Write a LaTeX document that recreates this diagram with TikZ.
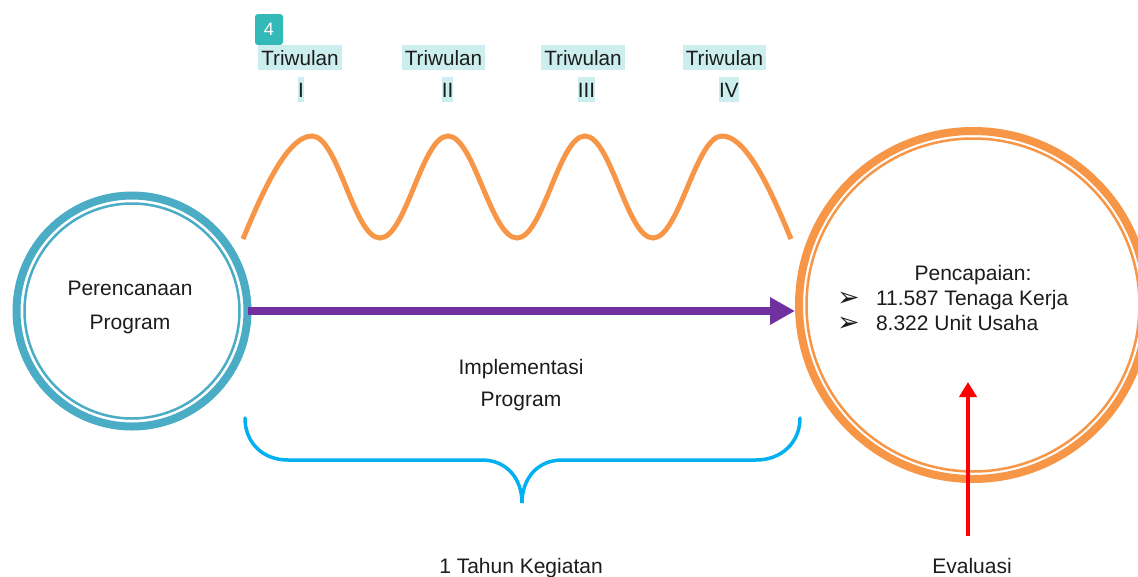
\documentclass[tikz,border=0pt]{standalone}
\usepackage{fontspec}
\setmainfont{Liberation Sans}
\newfontfamily\symfont{DejaVu Sans}
\usetikzlibrary{arrows.meta}
\definecolor{orng}{HTML}{F79646}
\definecolor{aqua}{HTML}{4BACC6}
\definecolor{purp}{HTML}{7030A0}
\definecolor{brc}{HTML}{00B0F0}
\definecolor{redc}{HTML}{FF0000}
\definecolor{hlc}{RGB}{204,238,238}
\definecolor{badgec}{RGB}{52,185,185}
\definecolor{txtc}{RGB}{28,28,28}
\newcommand{\mybullet}{\makebox[39pt][l]{\raisebox{-1pt}{\symfont\fontsize{27}{27}\selectfont ➢}}}
\begin{document}
\begin{tikzpicture}[x=1pt,y=-1pt,
  txt/.style={font=\fontsize{21}{25}\selectfont, text=txtc, inner sep=0pt, outer sep=0pt},
  hl/.style={fill=hlc, font=\fontsize{20.7}{24}\selectfont, text=txtc, text height=20.5pt, text depth=4.5pt, inner ysep=0pt, outer sep=0pt},
  ring/.style={circle, draw, line width=8pt, inner sep=0pt, outer sep=0pt},
  thinring/.style={line width=2.5pt},
  conn/.style={line width=8.5pt, draw=purp, -{Triangle[length=25pt,width=26pt]}}
]
\useasboundingbox (0,0) rectangle (1138,576);
\fill[white] (0,0) rectangle (1138,576);

% badge
\node[fill=badgec, rounded corners=3pt, minimum width=28pt, minimum height=31pt, inner sep=0pt,
      text=white, font=\fontsize{18}{20}\selectfont] (badge) at (269,29.5) {4};

% quarter labels
\node[hl, inner xsep=3pt, anchor=base] (t1) at (300,65) {Triwulan};
\node[hl, inner xsep=3pt, anchor=base] (t2) at (443.5,65) {Triwulan};
\node[hl, inner xsep=3pt, anchor=base] (t3) at (583,65) {Triwulan};
\node[hl, inner xsep=3pt, anchor=base] (t4) at (724.5,65) {Triwulan};
\node[hl, inner xsep=0pt, anchor=base] (r1) at (301,97) {I};
\node[hl, inner xsep=0pt, anchor=base] (r2) at (447.5,97) {II};
\node[hl, inner xsep=0pt, anchor=base] (r3) at (586.5,97) {III};
\node[hl, inner xsep=0pt, anchor=base] (r4) at (729,97) {IV};

% wave
\draw[orng, line width=5pt]
  (243,239) .. controls (262,193) and (287,136) .. (312,136)
  .. controls (338,136) and (354,238) .. (380,238)
  .. controls (406,238) and (422,136) .. (448,136)
  .. controls (474,136) and (491,238) .. (517,238)
  .. controls (543,238) and (559,136) .. (585,136)
  .. controls (611,136) and (627,238) .. (653,238)
  .. controls (679,238) and (696,136) .. (722,136)
  .. controls (747,136) and (772,193) .. (791,239);

% circles
\node[ring, draw=aqua, minimum size=231pt] (lc) at (132,311) {};
\draw[thinring, aqua] (lc.center) circle (107.5);
\node[ring, draw=orng, minimum size=348pt] (rc) at (973,305) {};
\draw[thinring, orng] (rc.center) circle (166.5);

% circle texts
\node[txt, align=center] (lt) at (130,307) {Perencanaan\\[9pt]Program};
\node[txt, anchor=base] (pt) at (973,280.5) {Pencapaian:};
\node[txt, anchor=base west] (l1) at (837,305.5) {\mybullet 11.587 Tenaga Kerja};
\node[txt, anchor=base west] (l2) at (837,330.5) {\mybullet 8.322 Unit Usaha};

% main arrow
\draw[conn, shorten >=4pt] (lc.east) -- (lc.east -| rc.west);
\node[txt, align=center] (impl) at (521,385) {Implementasi\\[7pt]Program};

% brace
\draw[brc, line width=3.5pt, line cap=round]
  (245,418) .. controls (245,442) and (262,460) .. (288,460) -- (482,460)
  .. controls (506,460) and (522,478) .. (522,503)
  .. controls (522,478) and (538,460) .. (562,460) -- (756,460)
  .. controls (782,460) and (800,442) .. (800,418);
\node[txt, anchor=base] (year) at (521,573) {1 Tahun Kegiatan};

% evaluation
\node[txt, anchor=base] (ev) at (972,573.5) {Evaluasi};
\coordinate (evb) at (968,536);
\coordinate (evt) at (968,382);
\draw[redc, line width=4pt, -{Triangle[length=15pt,width=17pt]}] (evb) -- (evt);
\end{tikzpicture}
\end{document}
